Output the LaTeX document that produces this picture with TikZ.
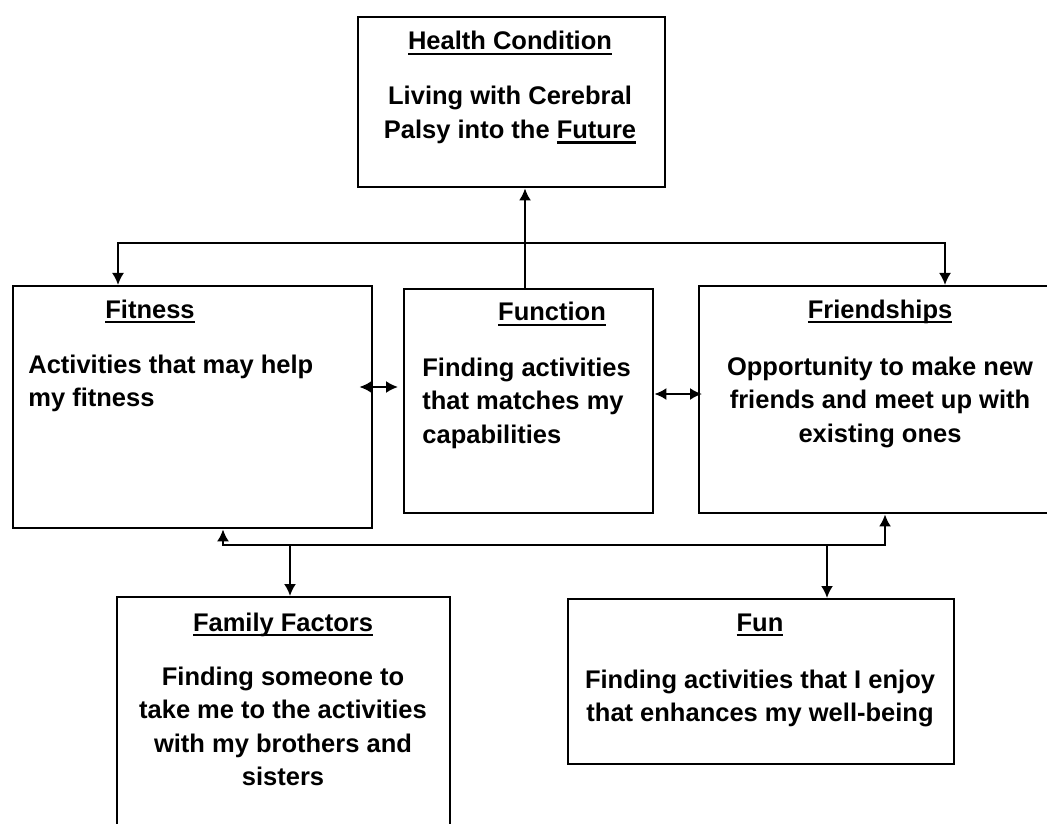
\documentclass[tikz,border=0pt]{standalone}
\usepackage{fontspec}
\setmainfont{Liberation Sans}
\usetikzlibrary{arrows.meta}
\newcommand{\undl}[1]{\setbox0\hbox{#1}\leavevmode\rlap{\raisebox{-2.6pt}{\rule{\wd0}{1.2pt}}}\box0}

\begin{document}
\begin{tikzpicture}[x=0.5pt,y=-0.5pt,>={Latex[length=6pt,width=6pt]},
	]

	\tikzset{box/.style={
				draw,line width=1.2pt,rectangle,
				inner sep=0pt,anchor=north west}
	}
	\tikzset{label text/.style={
				inner sep=0pt,anchor=base,
				font=\fontsize{12.75}{16.75}\selectfont\bfseries}
	}
	\tikzset{link/.style={line width=1pt}}

	\useasboundingbox (0,0) rectangle (1047,823);
	\clip (0,0) rectangle (1047,823);

	% boxes
	\node[box,minimum width=153.5pt,minimum height=85pt] (health) at (357,16) {};
	\node[box,minimum width=179.5pt,minimum height=121pt] (fitness) at (12,285) {};
	\node[box,minimum width=124.5pt,minimum height=112pt] (function) at (403,288) {};
	\node[box,minimum width=182pt,minimum height=113.5pt] (friendships) at (698,285) {};
	\node[box,minimum width=166.5pt,minimum height=132pt] (family) at (116,596) {};
	\node[box,minimum width=193pt,minimum height=82.5pt] (fun) at (567,598) {};

	% texts (base of a block is its last line)
	\node[label text] (health title) at (510,50) {\undl{Health Condition}};
	\node[label text,align=center] (health text) at (510,138.5) {Living with Cerebral\\Palsy into the \undl{Future}};

	\node[label text] (fitness title) at (150,318) {\undl{Fitness}};
	\node[label text,align=left,anchor=base west] (fitness text) at (28,406.5) {Activities that may help\\my fitness};

	\node[label text] (function title) at (552,321) {\undl{Function}};
	\node[label text,align=left,anchor=base west] (function text) at (422,443) {Finding activities\\that matches my\\capabilities};

	\node[label text] (friendships title) at (880,318) {\undl{Friendships}};
	\node[label text,align=center] (friendships text) at (880,442) {Opportunity to make new\\friends and meet up with\\existing ones};

	\node[label text] (family title) at (283,631) {\undl{Family Factors}};
	\node[label text,align=center] (family text) at (283,785.5) {Finding someone to\\take me to the activities\\with my brothers and\\sisters};

	\node[label text] (fun title) at (760,631) {\undl{Fun}};
	\node[label text,align=center] (fun text) at (760,721.5) {Finding activities that I enjoy\\that enhances my well-being};

	% connectors
	\coordinate (top left) at (118,243);
	\coordinate (top right) at (945,243);
	\coordinate (up) at (525,288);
	\coordinate (mid1) at (380,387);
	\coordinate (mid2) at (675,394);
	\coordinate (bot left) at (223,545);
	\coordinate (bot right) at (885,545);
	\coordinate (fam drop) at (290,545);
	\coordinate (fun drop) at (827,545);

	\draw[link,->] (up) -- (up |- health.south);
	\draw[link,<->] (top left |- fitness.north) -- (top left) -- (top right) -- (top right |- friendships.north);

	\draw[link,<->,shorten <=-7pt,shorten >=2.5pt] (fitness.east |- mid1) -- (function.west |- mid1);
	\draw[link,<->,shorten >=-2pt] (function.east |- mid2) -- (friendships.west |- mid2);

	\draw[link,<->] (bot left |- fitness.south) -- (bot left) -- (bot right) -- (bot right |- friendships.south);
	\draw[link,->] (fam drop) -- (fam drop |- family.north);
	\draw[link,->] (fun drop) -- (fun drop |- fun.north);

\end{tikzpicture}
\end{document}
